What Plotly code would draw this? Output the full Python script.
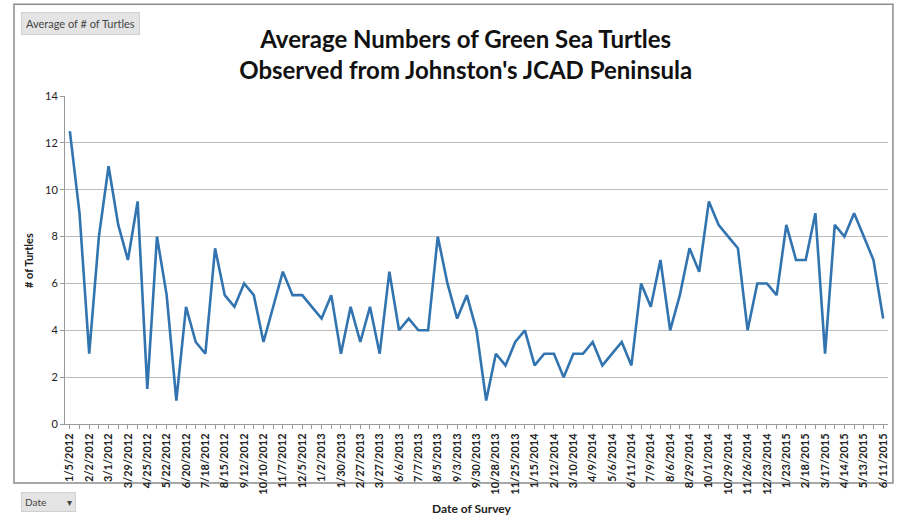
import plotly.graph_objects as go

tick_labels = ["1/5/2012", "2/2/2012", "3/1/2012", "3/29/2012", "4/25/2012", "5/22/2012",
               "6/20/2012", "7/18/2012", "8/15/2012", "9/12/2012", "10/10/2012", "11/7/2012",
               "12/5/2012", "1/2/2013", "1/30/2013", "2/27/2013", "3/27/2013", "6/6/2013",
               "7/7/2013", "8/5/2013", "9/3/2013", "9/30/2013", "10/28/2013", "11/25/2013",
               "1/15/2014", "2/12/2014", "3/10/2014", "4/9/2014", "5/6/2014", "6/11/2014",
               "7/9/2014", "8/6/2014", "8/29/2014", "10/1/2014", "10/29/2014", "11/26/2014",
               "12/23/2014", "1/23/2015", "2/18/2015", "3/17/2015", "4/14/2015", "5/13/2015",
               "6/11/2015"]

turtles = [12.5, 9, 3, 8, 11, 8.5, 7, 9.5, 1.5, 8, 5.5, 1, 5, 3.5, 3, 7.5, 5.5,
           5, 6, 5.5, 3.5, 5, 6.5, 5.5, 5.5, 5, 4.5, 5.5, 3, 5, 3.5, 5, 3, 6.5,
           4, 4.5, 4, 4, 8, 6, 4.5, 5.5, 4, 1, 3, 2.5, 3.5, 4, 2.5, 3, 3,
           2, 3, 3, 3.5, 2.5, 3, 3.5, 2.5, 6, 5, 7, 4, 5.5, 7.5, 6.5, 9.5, 8.5,
           8, 7.5, 4, 6, 6, 5.5, 8.5, 7, 7, 9, 3, 8.5, 8, 9, 8, 7, 4.5]

survey_index = list(range(len(turtles)))
label_positions = survey_index[::2]

FONT = "Lato"

fig = go.Figure()
fig.add_trace(go.Scatter(
    x=survey_index, y=turtles, mode="lines",
    line=dict(color="#3274b0", width=2.6),
    hoverinfo="y", showlegend=False,
))

fig.update_layout(
    width=899, height=529,
    margin=dict(l=65, r=11, t=96, b=105),
    paper_bgcolor="white", plot_bgcolor="white",
    font=dict(family=FONT, color="#222222"),
    title=dict(
        text="<b>Average Numbers of Green Sea Turtles<br>Observed from Johnston's JCAD Peninsula</b>",
        x=0.518, xanchor="center", y=0.909, yanchor="middle",
        font=dict(family=FONT, size=24, color="#111111"),
    ),
    xaxis=dict(
        range=[-0.5, len(turtles) - 0.5],
        tickmode="array", tickvals=label_positions, ticktext=tick_labels,
        tickangle=-90, tickfont=dict(family=FONT, size=11, color="#222222", weight="bold"),
        showgrid=False, zeroline=False,
        showline=True, linecolor="#9a9a9a", linewidth=1,
        ticks="outside", ticklen=4, tickcolor="#9a9a9a",
        minor=dict(dtick=1, tick0=0, ticks="outside", ticklen=4, tickcolor="#9a9a9a"),
        fixedrange=True,
    ),
    yaxis=dict(
        range=[0, 14], dtick=2, tick0=0,
        tickfont=dict(family=FONT, size=11, color="#222222"),
        showgrid=True, gridcolor="#bdbdbd", gridwidth=1,
        zeroline=False, showline=True, linecolor="#9a9a9a", linewidth=1,
        ticks="outside", ticklen=4, tickcolor="#9a9a9a",
        fixedrange=True,
    ),
    shapes=[
        dict(type="rect", xref="paper", yref="paper", x0=-0.062, x1=1.006, y0=-0.18, y1=1.28,
             line=dict(color="#8c8c8c", width=1.5), fillcolor="rgba(0,0,0,0)", layer="below"),
    ],
    annotations=[
        dict(text="<b># of Turtles</b>", xref="paper", yref="paper", x=-0.045, y=0.5,
             textangle=-90, showarrow=False, xanchor="center", yanchor="middle",
             font=dict(family=FONT, size=11, color="#222222")),
        dict(text="<b>Date of Survey</b>", xref="paper", yref="paper", x=0.494, y=-0.258,
             showarrow=False, xanchor="center", yanchor="middle",
             font=dict(family=FONT, size=12, color="#222222")),
        dict(text="Average of # of Turtles", xref="paper", yref="paper", x=-0.054, y=1.22,
             showarrow=False, xanchor="left", yanchor="middle",
             bgcolor="#e4e4e4", bordercolor="#d0d0d0", borderwidth=1, borderpad=4,
             font=dict(family=FONT, size=11, color="#444444")),
        dict(text="Date&nbsp;&nbsp;&nbsp;&nbsp;&nbsp;&nbsp;&nbsp;&nbsp;▾", xref="paper", yref="paper",
             x=-0.054, y=-0.238, showarrow=False, xanchor="left", yanchor="middle",
             bgcolor="#e4e4e4", bordercolor="#d0d0d0", borderwidth=1, borderpad=3,
             font=dict(family=FONT, size=10, color="#444444")),
    ],
)

fig.write_html("out.html")
